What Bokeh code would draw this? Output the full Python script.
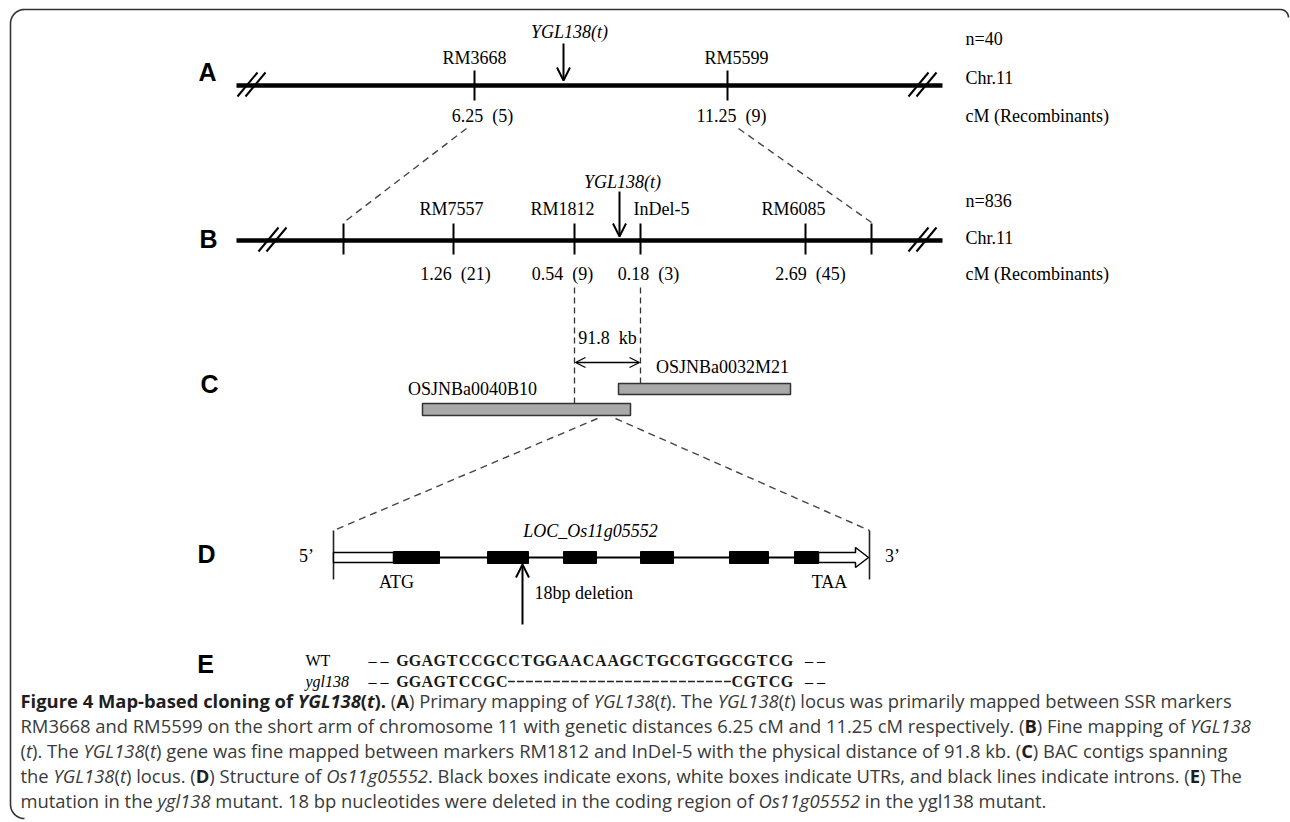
import numpy as np
from bokeh.plotting import figure
from bokeh.models import ColumnDataSource, Range1d, Arrow, OpenHead, CustomJS
from bokeh.core.properties import value
from bokeh.embed import file_html
from bokeh.resources import INLINE
from bokeh.document import Document
from bokeh.events import DocumentReady

# ---------------- data ----------------
# Panel A: primary mapping (n=40)
a_markers = ["RM3668", "RM5599"]
a_pos = [474, 727]
a_label_x = [474, 736]
a_dist = ["6.25\u2002(5)", "11.25\u2002(9)"]
a_dist_x = [482, 731]
a_locus = 563
a_n = "n=40"

# Panel B: fine mapping (n=836)
b_markers = ["RM7557", "RM1812", "InDel-5", "RM6085"]
b_pos = [453, 574, 640, 805]
b_label_x = [451, 562, 661, 793]
b_dist = ["1.26\u2002(21)", "0.54\u2002(9)", "0.18\u2002(3)", "2.69\u2002(45)"]
b_dist_x = [455, 562, 648, 810]
b_ends = [343, 871]
b_locus = 619
b_n = "n=836"

# Panel C: BAC contigs
bac_names = ["OSJNBa0040B10", "OSJNBa0032M21"]
bac_left = [422, 618]
bac_right = [630, 790]
bac_label_x = [472, 722]
phys_dist = "91.8\u2002kb"

# Panel D: gene structure
gene_name = "LOC_Os11g05552"
gene_start, gene_end = 333, 869
exon_left = [393, 487, 563, 640, 729, 794]
exon_right = [439, 528, 596, 673, 768, 818]
utr5 = [333, 393]
utr3 = [818, 868]
deletion_x = 522

# Panel E: sequences
wt_seq = "GGAGTCCGCCTGGAACAAGCTGCGTGGCGTCG"
mut_seq = "GGAGTCCGC" + "-" * 18 + "CGTCG"
seq_names = ["WT", "ygl138"]

# Caption
caption = [
    [("Figure 4 Map-based cloning of ", "bold"), ("YGL138", "bold italic"), ("(", "bold"),
     ("t", "bold italic"), (").", "bold"), (" (", "normal"), ("A", "bold"),
     (") Primary mapping of ", "normal"), ("YGL138", "italic"), ("(", "normal"), ("t", "italic"),
     ("). The ", "normal"), ("YGL138", "italic"), ("(", "normal"), ("t", "italic"),
     (") locus was primarily mapped between SSR markers", "normal")],
    [("RM3668 and RM5599 on the short arm of chromosome 11 with genetic distances 6.25 cM and 11.25 cM respectively. (", "normal"),
     ("B", "bold"), (") Fine mapping of ", "normal"), ("YGL138", "italic")],
    [("(", "normal"), ("t", "italic"), ("). The ", "normal"), ("YGL138", "italic"), ("(", "normal"),
     ("t", "italic"), (") gene was fine mapped between markers RM1812 and InDel-5 with the physical distance of 91.8 kb. (", "normal"),
     ("C", "bold"), (") BAC contigs spanning", "normal")],
    [("the ", "normal"), ("YGL138", "italic"), ("(", "normal"), ("t", "italic"), (") locus. (", "normal"),
     ("D", "bold"), (") Structure of ", "normal"), ("Os11g05552", "italic"),
     (". Black boxes indicate exons, white boxes indicate UTRs, and black lines indicate introns. (", "normal"),
     ("E", "bold"), (") The", "normal")],
    [("mutation in the ", "normal"), ("ygl138", "italic"),
     (" mutant. 18 bp nucleotides were deleted in the coding region of ", "normal"),
     ("Os11g05552", "italic"), (" in the ygl138 mutant.", "normal")],
]
cap_line_y = [700, 725, 750, 775, 800]

# ---------------- figure ----------------
W, H = 1290, 822
p = figure(width=W, height=H, x_range=Range1d(0, W), y_range=Range1d(H, 0),
           output_backend="svg", toolbar_location=None, x_axis_type=None, y_axis_type=None,
           min_border=0)
p.outline_line_color = None
p.background_fill_color = "white"
p.border_fill_color = "white"

SERIF = value("Liberation Serif")
SANS = value("Liberation Sans")
FS = "18px"

# frame with rounded corners
r = 14
th1 = np.linspace(np.pi / 2, np.pi, 12)
th2 = np.linspace(np.pi, 1.5 * np.pi, 12)
th0 = np.linspace(0, np.pi / 2, 8)
fx = list(1280 + 8 * np.cos(th0)) + list(10 + r + r * np.cos(th1)) + list(10 + r + r * np.cos(th2))
fy = list(17 - 8 * np.sin(th0)) + list(9 + r - r * np.sin(th1)) + list(818 - r - r * np.sin(th2))
p.line(fx, fy, line_color="#333333", line_width=1.6)

# panel letters
p.text(x=[207, 208, 209, 206, 205], y=[71, 238, 383, 553, 663], text=["A", "B", "C", "D", "E"],
       text_font=SANS, text_font_style="bold", text_font_size="25px",
       text_align="center", text_baseline="middle", text_color="black")

def chrom_line(y, x0, x1, brk):
    p.segment(x0=[x0], y0=[y], x1=[x1], y1=[y], line_color="black", line_width=4.5)
    bx0, by0, bx1, by1 = [], [], [], []
    for c in brk:
        for off in (-4, 4):
            bx0.append(c + off - 10); by0.append(y + 11)
            bx1.append(c + off + 10); by1.append(y - 13)
    p.segment(x0=bx0, y0=by0, x1=bx1, y1=by1, line_color="black", line_width=2)

def right_labels(y_list, texts):
    p.text(x=[965] * 3, y=y_list, text=texts, text_font=SERIF, text_font_size=FS,
           text_align="left", text_baseline="middle", text_color="black")

# ---------- Panel A ----------
yA = 85
chrom_line(yA, 236, 942, [251, 922])
p.segment(x0=a_pos, y0=[yA - 15] * 2, x1=a_pos, y1=[yA + 15] * 2, line_color="black", line_width=2)
p.text(x=a_label_x, y=[57] * 2, text=a_markers, text_font=SERIF, text_font_size=FS,
       text_align="center", text_baseline="middle")
p.text(x=a_dist_x, y=[115] * 2, text=a_dist, text_font=SERIF, text_font_size=FS,
       text_align="center", text_baseline="middle")
p.text(x=[a_locus + 6], y=[31], text=["YGL138(t)"], text_font=SERIF, text_font_style="italic",
       text_font_size=FS, text_align="center", text_baseline="middle")
p.add_layout(Arrow(end=OpenHead(size=13, line_width=2), x_start=a_locus, y_start=43,
                   x_end=a_locus, y_end=80, line_width=2))
right_labels([38, 77, 115], [a_n, "Chr.11", "cM (Recombinants)"])

# dashed zoom lines A -> B
p.segment(x0=[466, 738], y0=[128, 128], x1=[b_ends[0], b_ends[1]], y1=[222, 222],
          line_color="#444444", line_width=1.4, line_dash="7 5")

# ---------- Panel B ----------
yB = 240
chrom_line(yB, 236, 942, [272, 922])
tick_x = b_ends + b_pos
p.segment(x0=tick_x, y0=[yB - 17] * len(tick_x), x1=tick_x, y1=[yB + 14] * len(tick_x),
          line_color="black", line_width=2)
p.text(x=b_label_x, y=[208] * 4, text=b_markers, text_font=SERIF, text_font_size=FS,
       text_align="center", text_baseline="middle")
p.text(x=b_dist_x, y=[273] * 4, text=b_dist, text_font=SERIF, text_font_size=FS,
       text_align="center", text_baseline="middle")
p.text(x=[b_locus + 3], y=[181], text=["YGL138(t)"], text_font=SERIF, text_font_style="italic",
       text_font_size=FS, text_align="center", text_baseline="middle")
p.add_layout(Arrow(end=OpenHead(size=13, line_width=2), x_start=b_locus, y_start=191,
                   x_end=b_locus, y_end=236, line_width=2))
right_labels([200, 237, 273], [b_n, "Chr.11", "cM (Recombinants)"])

# ---------- Panel C ----------
p.segment(x0=[b_pos[1], b_pos[2]], y0=[287, 287], x1=[b_pos[1], b_pos[2]], y1=[403, 383],
          line_color="#333333", line_width=1.3, line_dash="6 4")
p.add_layout(Arrow(start=OpenHead(size=10, line_width=1.3), end=OpenHead(size=10, line_width=1.3),
                   x_start=b_pos[1] + 1, y_start=362, x_end=b_pos[2] - 1, y_end=362, line_width=1.3))
p.text(x=[607], y=[337], text=[phys_dist], text_font=SERIF, text_font_size=FS,
       text_align="center", text_baseline="middle")
p.quad(left=bac_left, right=bac_right, top=[403, 383], bottom=[415, 394],
       fill_color="#a9a9a9", line_color="#333333", line_width=1.5)
p.text(x=bac_label_x, y=[388, 366], text=bac_names, text_font=SERIF, text_font_size=FS,
       text_align="center", text_baseline="middle")
p.segment(x0=[597, 615], y0=[418, 418], x1=[gene_start, gene_end], y1=[530, 530],
          line_color="#444444", line_width=1.4, line_dash="7 5")

# ---------- Panel D ----------
yD = 557
p.segment(x0=[gene_start, gene_end], y0=[530, 530], x1=[gene_start, gene_end], y1=[579, 579],
          line_color="#222222", line_width=1.6)
p.segment(x0=[utr5[0]], y0=[yD], x1=[utr3[1] - 8], y1=[yD], line_color="black", line_width=2)
p.quad(left=[utr5[0]], right=[utr5[1]], top=[552], bottom=[562],
       fill_color="white", line_color="black", line_width=1.5)
hx = utr3[1] - 13
p.patch(x=[utr3[0], hx, hx, utr3[1], hx, hx, utr3[0]],
        y=[552, 552, 547, yD, 567, 562, 562],
        fill_color="white", line_color="black", line_width=1.5)
p.quad(left=exon_left, right=exon_right, top=[551] * 6, bottom=[563] * 6,
       fill_color="black", line_color="black")
p.text(x=[590], y=[530], text=[gene_name], text_font=SERIF, text_font_style="italic",
       text_font_size=FS, text_align="center", text_baseline="middle")
p.text(x=[306, 892], y=[yD - 2, yD - 2], text=["5\u2019", "3\u2019"], text_font=SERIF,
       text_font_size=FS, text_align="center", text_baseline="middle")
p.text(x=[396, 829], y=[581, 581], text=["ATG", "TAA"], text_font=SERIF, text_font_size=FS,
       text_align="center", text_baseline="middle")
p.add_layout(Arrow(end=OpenHead(size=13, line_width=2), x_start=deletion_x, y_start=624,
                   x_end=deletion_x, y_end=564, line_width=2))
p.text(x=[534], y=[592], text=["18bp deletion"], text_font=SERIF, text_font_size=FS,
       text_align="left", text_baseline="middle")

# ---------- Panel E ----------
yE = [660, 681]
seq_x0, step = 402, 12.4
p.text(x=[305], y=[yE[0]], text=[seq_names[0]], text_font=SERIF, text_font_size="16px",
       text_align="left", text_baseline="middle")
p.text(x=[305], y=[yE[1]], text=[seq_names[1]], text_font=SERIF, text_font_style="italic",
       text_font_size="16px", text_align="left", text_baseline="middle")
cx, cy, ct = [], [], []
for row, seq in enumerate([wt_seq, mut_seq]):
    for i, ch in enumerate(seq):
        if ch != "-":
            cx.append(seq_x0 + i * step); cy.append(yE[row]); ct.append(ch)
p.text(x=cx, y=cy, text=ct, text_font=SERIF, text_font_style="bold", text_font_size="16px",
       text_align="center", text_baseline="middle", text_color="#1a1a1a")
del_idx = [i for i, ch in enumerate(mut_seq) if ch == "-"]
p.segment(x0=[seq_x0 + (del_idx[0] - 0.5) * step], y0=[yE[1]],
          x1=[seq_x0 + (del_idx[-1] + 0.6) * step], y1=[yE[1]],
          line_color="#222222", line_width=1.4, line_dash="7 2")
end_x = seq_x0 + (len(wt_seq) - 1) * step
p.text(x=[378, 378, end_x + 28, end_x + 28], y=yE + yE, text=["\u2013 \u2013"] * 4,
       text_font=SERIF, text_font_size="16px", text_align="center", text_baseline="middle")

# ---------- Caption ----------
CAP = 18.4
OS_W = {' ': 532, '(': 596, ')': 596, '-': 659, '.': 545, ',': 502, '=': 1171, ':': 545,
        'A': 1296, 'B': 1327, 'C': 1292, 'D': 1493, 'E': 1139, 'F': 1057, 'G': 1491, 'H': 1511,
        'I': 571, 'J': 547, 'K': 1257, 'L': 1061, 'M': 1825, 'N': 1571, 'O': 1617, 'P': 1245,
        'R': 1284, 'S': 1124, 'T': 1126, 'U': 1489, 'V': 1208, 'W': 1872, 'Y': 1145,
        'a': 1139, 'b': 1255, 'c': 975, 'd': 1255, 'e': 1149, 'f': 694, 'g': 1122, 'h': 1257,
        'i': 518, 'j': 518, 'k': 1075, 'l': 518, 'm': 1905, 'n': 1257, 'o': 1237, 'p': 1255,
        'q': 1255, 'r': 836, 's': 977, 't': 723, 'u': 1257, 'v': 1026, 'w': 1593, 'x': 1073,
        'y': 1028, 'z': 977}
for dch in "0123456789":
    OS_W[dch] = 1171

def tw(s, style):
    w = sum(OS_W.get(c, 1150) for c in s) / 2048 * CAP
    return w * (1.06 if "bold" in style else 1.0)

cap_x, cap_y, cap_t, cap_s, cap_c, cap_l, cap_x0 = [], [], [], [], [], [], []
for li, segs in enumerate(caption):
    x = 20
    for txt, st in segs:
        shown = ("\u00a0" + txt[1:]) if txt.startswith(" ") else txt
        cap_x.append(x); cap_y.append(cap_line_y[li]); cap_t.append(shown); cap_s.append(st)
        cap_c.append("#1e1e1e" if "bold" in st else "#3a3a3a"); cap_l.append(li); cap_x0.append(20)
        x += tw(txt, st)
cap_src = ColumnDataSource(dict(x=cap_x, y=cap_y, text=cap_t, style=cap_s, color=cap_c,
                                line=cap_l, x0=cap_x0))
p.text(x="x", y="y", text="text", source=cap_src, text_font=value("Open Sans"),
       text_font_size=f"{CAP}px", text_font_style="style", text_color="color",
       text_align="left", text_baseline="alphabetic")

measure = CustomJS(args=dict(src=cap_src, size=CAP), code="""
const d = src.data;
const ctx = document.createElement('canvas').getContext('2d');
const xs = Array.from(d.x);
let cur = null, cx = 0;
for (let i = 0; i < xs.length; i++) {
  if (d.line[i] !== cur) { cur = d.line[i]; cx = d.x0[i]; }
  xs[i] = cx;
  const st = d.style[i];
  ctx.font = (st.includes('italic') ? 'italic ' : '') + (st.includes('bold') ? 'bold ' : '') + size + 'px "Open Sans"';
  cx += ctx.measureText(String(d.text[i]).replace(/\\u00a0/g, ' ')).width;
}
src.data = Object.assign({}, d, {x: xs});
""")

doc = Document()
doc.add_root(p)
doc.js_on_event(DocumentReady, measure)

open("out.html", "w").write(file_html(p, INLINE))
